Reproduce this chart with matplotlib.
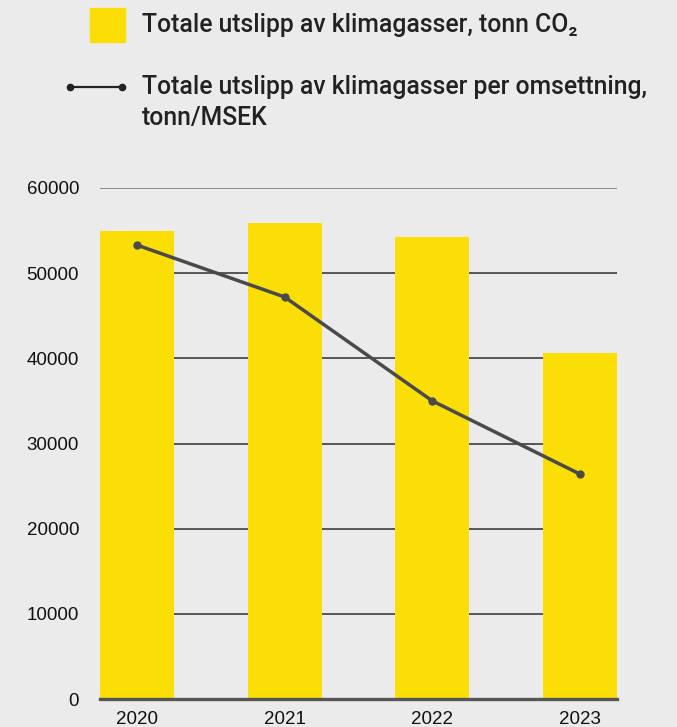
import matplotlib.pyplot as plt
import numpy as np

years = ['2020', '2021', '2022', '2023']
total_co2 = [55000, 55900, 54200, 40600]          # tonn CO2 (bars)
per_turnover = [53300, 47200, 35000, 26400]       # tonn/MSEK (line, read on left scale)
yticks = [0, 10000, 20000, 30000, 40000, 50000, 60000]

bg = '#ebebeb'
yellow = '#fcde07'
linecol = '#4a4a4a'
plt.rcParams['font.family'] = ['Liberation Sans', 'DejaVu Sans']

fig = plt.figure(figsize=(6.77, 7.27), dpi=100, facecolor=bg)
ax = fig.add_axes([100 / 677, 1 - 699 / 727, 517 / 677, 511 / 727], facecolor=bg)

x = np.arange(len(years))
ax.bar(x, total_co2, width=0.5, color=yellow, zorder=2)
ax.plot(x, per_turnover, color=linecol, lw=2.5, marker='o', ms=5, zorder=3)

# grid lines behind bars
for t in yticks[1:]:
    ax.axhline(t, color='#2e2e2e' if t < 60000 else '#707070', lw=1.1, zorder=1)
ax.axhline(0, color='#555555', lw=2.4, zorder=4, clip_on=False)

ax.set_xlim(-0.25, 3.25)
ax.set_ylim(0, 60000)
ax.set_yticks(yticks)
ax.set_yticklabels([str(t) for t in yticks])
ax.set_xticks(x)
ax.set_xticklabels(years)
ax.tick_params(axis='both', length=0, labelsize=13.5, colors='#111111')
ax.tick_params(axis='y', pad=15)
ax.tick_params(axis='x', pad=9)
for s in ax.spines.values():
    s.set_visible(False)

# legend drawn by hand
fig.patches.append(plt.Rectangle((90 / 677, 1 - 42 / 727), 35 / 677, 34 / 727,
                                 transform=fig.transFigure, color=yellow))
ly = 1 - 87 / 727
fig.add_artist(plt.Line2D([70 / 677, 122 / 677], [ly, ly], color='#222222', lw=1.6,
                          marker='o', ms=4.5, markevery=[0, 1], transform=fig.transFigure))
lfont = dict(family=['Roboto', 'DejaVu Sans'], weight='medium', size=17.8, color='#222222')
fig.text(142 / 677, 1 - 25 / 727, 'Totale utslipp av klimagasser, tonn CO\u2082', va='center', **lfont)
fig.text(142 / 677, 1 - 87 / 727, 'Totale utslipp av klimagasser per omsettning,', va='center', **lfont)
fig.text(142 / 677, 1 - 118 / 727, 'tonn/MSEK', va='center', **lfont)

fig.savefig('out.png', dpi=100, facecolor=bg)
